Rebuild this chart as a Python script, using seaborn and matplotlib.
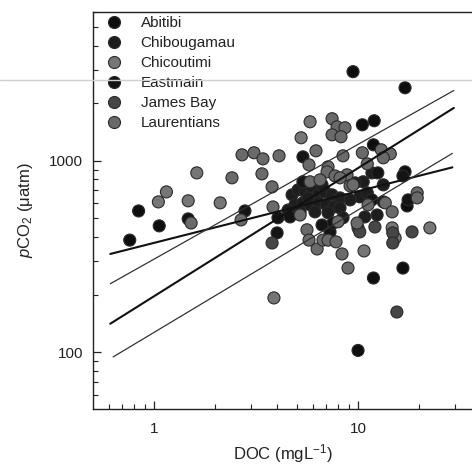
import numpy as np
import pandas as pd
import matplotlib
matplotlib.use("Agg")
import matplotlib.pyplot as plt
from matplotlib.lines import Line2D
from matplotlib.ticker import LogLocator, NullFormatter, FixedLocator, FixedFormatter
import seaborn as sns

# DOC (mg/L), pCO2 (uatm)
abitibi_doc = [9.45, 17.0, 0.76, 0.84, 1.06, 10.0, 11.9, 16.6, 17.4, 17.0, 10.5, 12.0, 11.9]
abitibi_pco2 = [2925, 2410, 385, 547, 457, 102, 244, 275, 581, 876, 1543, 1620, 1213]

chibougamau_doc = [4.75, 5.08, 5.50, 5.95, 6.37, 6.89, 7.46, 8.16, 4.91, 5.37, 5.82, 6.37, 6.97,
                   7.62, 4.54, 5.20, 6.15, 7.13, 8.16, 6.66, 5.69, 10.6, 11.7, 13.3, 9.67, 10.2,
                   11.1, 10.8, 12.4, 8.44, 9.14]
chibougamau_pco2 = [664, 705, 688, 705, 664, 688, 664, 640, 589, 603, 589, 603, 589,
                    574, 553, 541, 541, 535, 567, 749, 640, 777, 865, 749, 767, 648,
                    680, 509, 521, 504, 625]

chicoutimi_doc = [5.82, 5.26, 1.62, 1.15, 1.05, 1.47, 2.11, 10.7, 22.5, 3.87, 15.2, 14.7]
chicoutimi_pco2 = [1600, 1320, 865, 688, 610, 618, 603, 338, 446, 192, 395, 446]

eastmain_doc = [5.37, 1.47, 2.79, 4.05, 4.64, 4.01, 7.29, 12.5, 17.6, 16.6, 11.7, 13.3, 7.54, 6.66, 5.37]
eastmain_pco2 = [1049, 497, 547, 504, 509, 420, 425, 865, 625, 834, 625, 610, 473, 462, 777]

jamesbay_doc = [3.79, 14.8, 14.8, 18.4, 15.5, 10.0, 12.1, 10.2]
jamesbay_pco2 = [372, 420, 372, 425, 162, 446, 451, 425]

laurentians_doc = [7.46, 7.89, 8.63, 7.46, 8.25, 13.0, 14.4, 13.3, 6.22, 8.44, 10.5, 2.70, 3.09,
                   3.42, 4.10, 5.75, 7.13, 7.05, 11.1, 2.41, 3.38, 3.79, 5.82, 6.51, 7.71, 8.83,
                   2.67, 3.83, 1.52, 19.5, 19.5, 9.14, 8.16, 9.45, 13.6, 14.7, 11.2, 5.20, 5.62,
                   7.98, 5.75, 6.30, 6.73, 7.13, 7.80, 8.35, 8.93, 9.89]
laurentians_pco2 = [1660, 1506, 1489, 1368, 1336, 1142, 1088, 1037, 1128, 1062, 1102, 1075, 1102,
                    1024, 1062, 953, 930, 876, 964, 815, 855, 731, 777, 795, 834, 845,
                    491, 574, 473, 680, 640, 740, 815, 749, 603, 541, 589, 521, 436,
                    480, 385, 346, 385, 385, 377, 326, 275, 473]

regions = ["Abitibi", "Chibougamau", "Chicoutimi", "Eastmain", "James Bay", "Laurentians"]

# log-log fits: log10(pCO2) = a + b*log10(DOC), drawn over DOC range
fit_a = [2.571, 2.486, 2.292, 2.103]
fit_b = [0.27, 0.60, 0.67, 0.64]
fit_x0 = [0.61, 0.61, 0.61, 0.63]
fit_x1 = [29.0, 29.5, 29.5, 29.0]

series = {
    "Abitibi": (abitibi_doc, abitibi_pco2),
    "Chibougamau": (chibougamau_doc, chibougamau_pco2),
    "Chicoutimi": (chicoutimi_doc, chicoutimi_pco2),
    "Eastmain": (eastmain_doc, eastmain_pco2),
    "James Bay": (jamesbay_doc, jamesbay_pco2),
    "Laurentians": (laurentians_doc, laurentians_pco2),
}
rows = []
for name in regions:
    d, p = series[name]
    for xv, yv in zip(d, p):
        rows.append((name, xv, yv))
df = pd.DataFrame(rows, columns=["region", "DOC", "pCO2"])

palette = {
    "Abitibi": "#0e0e0e",
    "Chibougamau": "#1d1d1d",
    "Chicoutimi": "#767676",
    "Eastmain": "#141414",
    "James Bay": "#464646",
    "Laurentians": "#6a6a6a",
}

sns.set_style("ticks")
plt.rcParams["font.family"] = ["Liberation Sans", "DejaVu Sans"]
plt.rcParams["mathtext.fontset"] = "custom"
plt.rcParams["mathtext.rm"] = "Liberation Sans"
plt.rcParams["mathtext.it"] = "Liberation Sans:italic"

fig = plt.figure(figsize=(4.72, 4.69), dpi=100)
ax = fig.add_axes([93 / 472, 60 / 469, 1 - 93 / 472, 397 / 469])

sns.scatterplot(data=df, x="DOC", y="pCO2", hue="region", hue_order=regions,
                palette=palette, s=75, edgecolor="#2a2a2a", linewidth=0.8,
                ax=ax, zorder=3)

line_styles = [(1.5, "#111111"), (0.9, "#333333"), (1.5, "#111111"), (0.9, "#333333")]
for a, b, x0, x1, (lw, c) in zip(fit_a, fit_b, fit_x0, fit_x1, line_styles):
    xs = np.array([x0, x1])
    ys = 10 ** (a + b * np.log10(xs))
    sns.lineplot(x=xs, y=ys, ax=ax, color=c, lw=lw, zorder=4, legend=False)

ax.set_xscale("log")
ax.set_yscale("log")
ax.set_xlim(0.502, 36.2)
ax.set_ylim(50.4, 6000)

ax.xaxis.set_major_locator(FixedLocator([1, 10]))
ax.xaxis.set_major_formatter(FixedFormatter(["1", "10"]))
ax.xaxis.set_minor_locator(LogLocator(base=10, subs=np.arange(2, 10)))
ax.xaxis.set_minor_formatter(NullFormatter())
ax.yaxis.set_major_locator(FixedLocator([100, 1000]))
ax.yaxis.set_major_formatter(FixedFormatter(["100", "1000"]))
ax.yaxis.set_minor_locator(LogLocator(base=10, subs=np.arange(2, 10)))
ax.yaxis.set_minor_formatter(NullFormatter())

ax.tick_params(which="major", direction="in", length=6, width=0.9, labelsize=11,
               color="#222222", labelcolor="#222222")
ax.tick_params(axis="x", which="major", pad=9)
ax.tick_params(axis="y", which="major", pad=7)
ax.tick_params(which="minor", direction="in", length=3.5, width=0.8, color="#222222")

ax.spines["right"].set_visible(False)
for s in ["left", "bottom", "top"]:
    ax.spines[s].set_color("#222222")
    ax.spines[s].set_linewidth(1.0)

ax.set_xlabel("DOC (mgL$^{-1}$)", fontsize=12, color="#222222", labelpad=5)
ax.set_ylabel("$p$CO$_2$ (μatm)", fontsize=12, color="#222222", labelpad=10)

handles, labels = ax.get_legend_handles_labels()
leg = ax.legend(handles, labels, loc="upper left", frameon=False, fontsize=11,
                handletextpad=0.72, labelspacing=0.39, borderaxespad=0.0,
                bbox_to_anchor=(0.0, 1.005), markerscale=1.0)
for t in leg.get_texts():
    t.set_color("#222222")

# faint horizontal scan streak across the page
fig.add_artist(Line2D([0, 1], [1 - 80 / 469, 1 - 80 / 469], color="#d0d0d0", lw=1.0))

fig.savefig("out.png", dpi=100)
